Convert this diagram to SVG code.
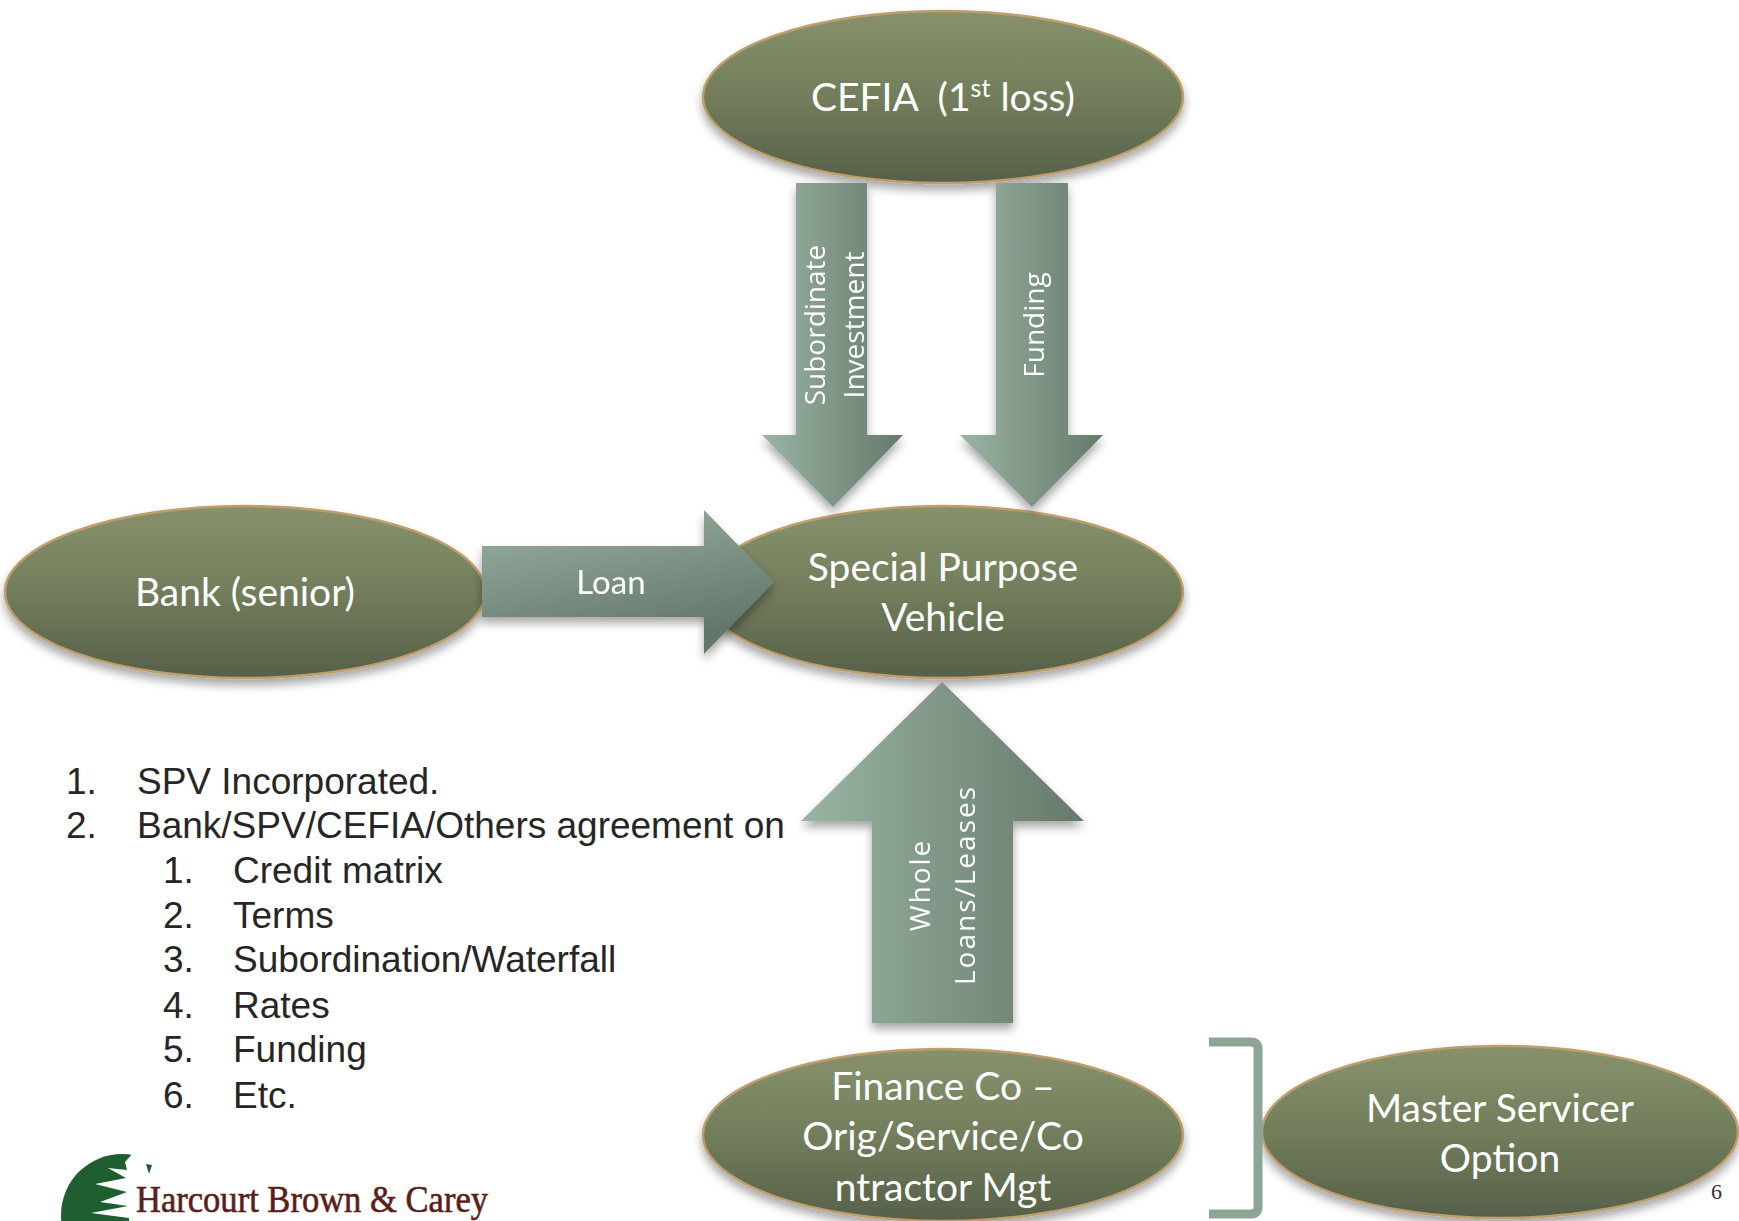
<svg xmlns="http://www.w3.org/2000/svg" width="1739" height="1221" viewBox="0 0 1739 1221">
<defs>
  <linearGradient id="ellG" x1="0" y1="0" x2="0" y2="1">
    <stop offset="0" stop-color="#87926d"/>
    <stop offset="0.5" stop-color="#727d5b"/>
    <stop offset="1" stop-color="#56604a"/>
  </linearGradient>
  <linearGradient id="arrV" x1="0" y1="0" x2="1" y2="0">
    <stop offset="0" stop-color="#9ab4a4"/>
    <stop offset="1" stop-color="#66796b"/>
  </linearGradient>
  <linearGradient id="arrH" x1="0" y1="0" x2="0.4" y2="1">
    <stop offset="0" stop-color="#9ab3a3"/>
    <stop offset="1" stop-color="#63766a"/>
  </linearGradient>
  <filter id="sh" x="-10%" y="-10%" width="120%" height="130%">
    <feDropShadow dx="0" dy="6" stdDeviation="5" flood-color="#000" flood-opacity="0.35"/>
  </filter>
  <clipPath id="logoClip"><rect x="0" y="1140" width="520" height="81"/></clipPath>
</defs>
<style>
  .node ellipse { fill: url(#ellG); stroke: #bf9e6c; stroke-width: 2.5; filter: url(#sh); }
  .nt { font-family: Lato, "Open Sans", sans-serif; font-size: 39px; fill: #ffffff; text-anchor: middle; }
  .al { font-family: "Open Sans", "Noto Sans", sans-serif; font-size: 28px; fill: #ffffff; text-anchor: middle; }
  .arrow { filter: url(#sh); }
  .li { font-family: "Liberation Sans", Arial, sans-serif; font-size: 37px; fill: #262626; }
</style>

<rect x="0" y="0" width="1739" height="1221" fill="#ffffff"/>

<g id="node-cefia" class="node">
  <ellipse cx="943" cy="97" rx="240" ry="86"/>
  <text class="nt" x="943" y="111" xml:space="preserve">CEFIA  (1<tspan font-size="25" dy="-14">st</tspan><tspan dy="14"> loss)</tspan></text>
</g>
<g id="node-bank" class="node">
  <ellipse cx="245" cy="592" rx="240" ry="86"/>
  <text class="nt" x="245" y="606">Bank (senior)</text>
</g>
<g id="node-spv" class="node">
  <ellipse cx="943" cy="592" rx="240" ry="86"/>
  <text class="nt" x="943" y="581">Special Purpose</text>
  <text class="nt" x="943" y="631">Vehicle</text>
</g>
<g id="node-finance" class="node">
  <ellipse cx="943" cy="1135" rx="240" ry="86"/>
  <text class="nt" x="943" y="1100">Finance Co –</text>
  <text class="nt" x="943" y="1150">Orig/Service/Co</text>
  <text class="nt" x="943" y="1201">ntractor Mgt</text>
</g>
<g id="node-master" class="node">
  <ellipse cx="1500" cy="1132" rx="238" ry="86"/>
  <text class="nt" x="1500" y="1122">Master Servicer</text>
  <text class="nt" x="1500" y="1172">Option</text>
</g>

<g id="connectors">
  <g id="arrow-subordinate" class="arrow">
    <polygon points="796,183 867,183 867,435 903,435 833,507 762,435 796,435" fill="url(#arrV)"/>
    <text class="al" transform="translate(815,325) rotate(-90)" x="0" y="10">Subordinate</text>
    <text class="al" transform="translate(854,325) rotate(-90)" x="0" y="10">Investment</text>
  </g>
  <g id="arrow-funding" class="arrow">
    <polygon points="996,183 1068,183 1068,435 1103,435 1032,507 960,435 996,435" fill="url(#arrV)"/>
    <text class="al" transform="translate(1034,325) rotate(-90)" x="0" y="10">Funding</text>
  </g>
  <g id="arrow-loan" class="arrow">
    <polygon points="482,546 704,546 704,510 774,582 704,654 704,617 482,617" fill="url(#arrH)"/>
    <text class="nt" x="611" y="594" style="font-size:33px">Loan</text>
  </g>
  <g id="arrow-whole" class="arrow">
    <polygon points="872,1023 872,821 801,821 942,682 1084,821 1013,821 1013,1023" fill="url(#arrV)"/>
    <text class="al" transform="translate(920,885) rotate(-90)" x="0" y="10" letter-spacing="2">Whole</text>
    <text class="al" transform="translate(965,885) rotate(-90)" x="0" y="10" letter-spacing="2">Loans/Leases</text>
  </g>
  <path id="bracket" d="M1209,1042 H1251 Q1258,1042 1258,1049 V1207 Q1258,1214 1251,1214 H1209" fill="none" stroke="#8da596" stroke-width="9"/>
</g>

<g id="list">
  <text class="li" x="66" y="794">1.</text><text class="li" x="137" y="794">SPV Incorporated.</text>
  <text class="li" x="66" y="838">2.</text><text class="li" x="137" y="838">Bank/SPV/CEFIA/Others agreement on</text>
  <text class="li" x="163" y="883">1.</text><text class="li" x="233" y="883">Credit matrix</text>
  <text class="li" x="163" y="928">2.</text><text class="li" x="233" y="928">Terms</text>
  <text class="li" x="163" y="972">3.</text><text class="li" x="233" y="972">Subordination/Waterfall</text>
  <text class="li" x="163" y="1018">4.</text><text class="li" x="233" y="1018">Rates</text>
  <text class="li" x="163" y="1062">5.</text><text class="li" x="233" y="1062">Funding</text>
  <text class="li" x="163" y="1108">6.</text><text class="li" x="233" y="1108">Etc.</text>
</g>

<g id="logo" clip-path="url(#logoClip)">
  <circle cx="122" cy="1215" r="61" fill="#1f5e2e"/>
  <polygon fill="#ffffff" points="220,1141 134,1152 125,1162 127,1170 108,1168 126,1178 95,1184 127,1192 100,1202 128,1206 91,1213 129,1218 129,1221 220,1221"/>
  <polygon fill="#1f5e2e" points="146,1164 149,1174 152,1165"/>
  <text x="136" y="1212" font-family="'Liberation Serif', 'Times New Roman', serif" font-size="37" fill="#5a1e1c" stroke="#5a1e1c" stroke-width="0.6" textLength="352" lengthAdjust="spacingAndGlyphs">Harcourt Brown &amp; Carey</text>
</g>

<text id="page-number" x="1711" y="1199" font-family="'Liberation Serif', serif" font-size="22" fill="#333333">6</text>
</svg>
